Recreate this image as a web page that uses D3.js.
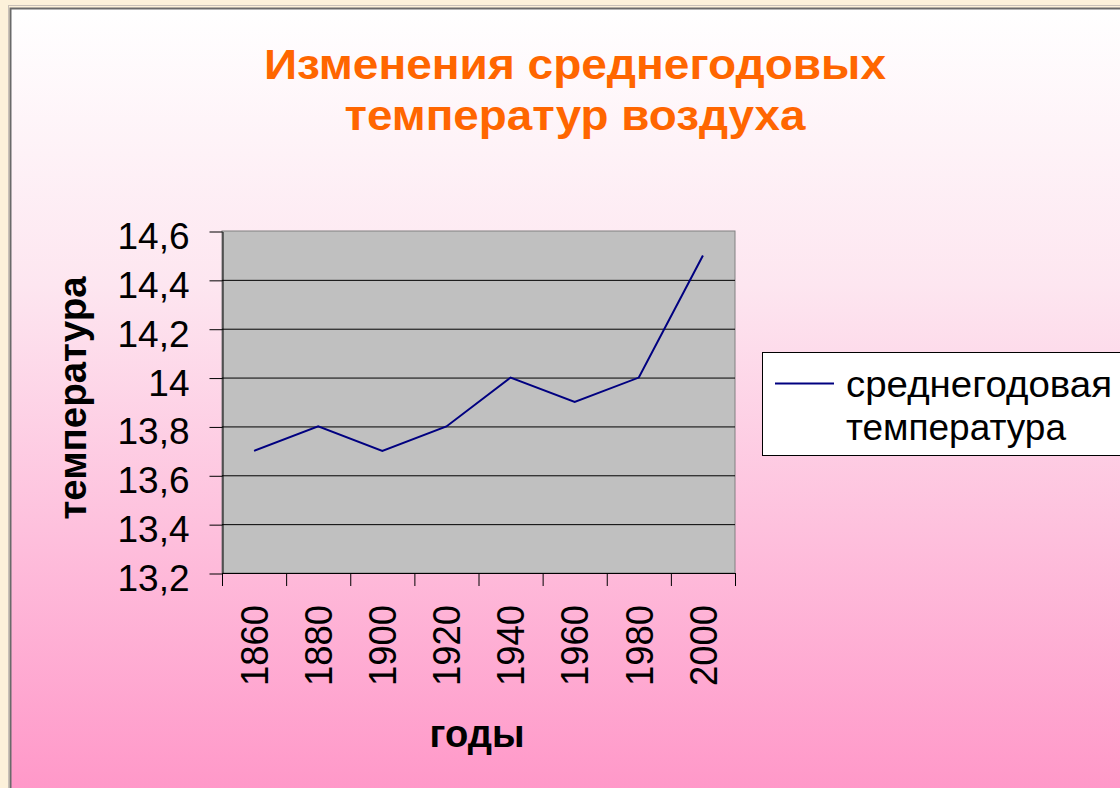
<!DOCTYPE html>
<html>
<head>
<meta charset="utf-8">
<script src="https://cdn.jsdelivr.net/npm/d3@7"></script>
<style>
  body { margin: 0; background: #fcf1da; }
  svg { display: block; }
</style>
</head>
<body>
<div id="chart"></div>
<script>
// data
const years = ["1860", "1880", "1900", "1920", "1940", "1960", "1980", "2000"];
const temps = [13.7, 13.8, 13.7, 13.8, 14.0, 13.9, 14.0, 14.5];
const yTicks = [13.2, 13.4, 13.6, 13.8, 14.0, 14.2, 14.4, 14.6];
const titleLines = ["Изменения среднегодовых", "температур воздуха"];
const legendLines = ["среднегодовая", "температура"];
const xTitle = "годы";
const yTitle = "температура";

const W = 1120, H = 788;
const plot = { left: 222, right: 735, top: 231, bottom: 573 };
const font = "'Liberation Sans', Arial, sans-serif";

const svg = d3.select("#chart")
  .append("svg")
  .attr("width", W)
  .attr("height", H)
  .style("font-family", font);

// background gradient of the slide
const defs = svg.append("defs");
const grad = defs.append("linearGradient")
  .attr("id", "bg")
  .attr("x1", 0).attr("y1", 0).attr("x2", 0).attr("y2", 1);
grad.append("stop").attr("offset", "0%").attr("stop-color", "#ffffff");
grad.append("stop").attr("offset", "35%").attr("stop-color", "#fde6f0");
grad.append("stop").attr("offset", "100%").attr("stop-color", "#ff97c8");

// frame
svg.append("rect")
  .attr("x", 8.5).attr("y", 5.5)
  .attr("width", W).attr("height", H)
  .attr("fill", "none")
  .attr("stroke", "#c8c0b8");
svg.append("rect")
  .attr("x", 10.5).attr("y", 8.5)
  .attr("width", W).attr("height", H)
  .attr("fill", "url(#bg)")
  .attr("stroke", "#6a6a6a")
  .attr("stroke-width", 2);

// title
svg.append("g")
  .selectAll("text")
  .data(titleLines)
  .join("text")
  .attr("x", 575)
  .attr("y", (d, i) => 79 + i * 51)
  .attr("text-anchor", "middle")
  .attr("font-size", 43)
  .attr("font-weight", "bold")
  .attr("fill", "#ff6600")
  .attr("textLength", (d, i) => i == 0 ? 622 : 461)
  .attr("lengthAdjust", "spacingAndGlyphs")
  .text(d => d);

// scales
const x = d3.scaleBand()
  .domain(years)
  .range([plot.left, plot.right])
  .padding(0);

const y = d3.scaleLinear()
  .domain([13.2, 14.6])
  .range([plot.bottom, plot.top]);

// plot area
svg.append("rect")
  .attr("x", plot.left).attr("y", plot.top)
  .attr("width", plot.right - plot.left)
  .attr("height", plot.bottom - plot.top)
  .attr("fill", "#c0c0c0")
  .attr("stroke", "#808080");

// gridlines
svg.append("g")
  .selectAll("line")
  .data(yTicks.slice(1, -1))
  .join("line")
  .attr("x1", plot.left).attr("x2", plot.right)
  .attr("y1", d => y(d) + 0.5).attr("y2", d => y(d) + 0.5)
  .attr("stroke", "#000")
  .attr("stroke-width", 1);

// Y axis
const Y_axis = svg.append("g")
  .attr("transform", `translate(${plot.left + 0.5}, 0.5)`)
  .call(d3.axisLeft(y)
    .tickValues(yTicks)
    .tickSize(13)
    .tickPadding(20)
    .tickSizeOuter(0)
    .tickFormat(d => String(+d.toFixed(1)).replace(".", ",")));
Y_axis.select(".domain").attr("stroke", "#000");
Y_axis.selectAll(".tick line").attr("stroke", "#000");
Y_axis.selectAll("text")
  .attr("font-size", 37)
  .attr("font-family", font)
  .attr("fill", "#000")
  .attr("dy", "0.46em");

// X axis: ticks at the category boundaries, labels in the middle
const xBounds = years.map(d => x(d)).concat([x.range()[1]]);
const X_axis = svg.append("g");
X_axis.append("line")
  .attr("x1", plot.left).attr("x2", plot.right)
  .attr("y1", plot.bottom + 0.5).attr("y2", plot.bottom + 0.5)
  .attr("stroke", "#000");
X_axis.selectAll(".xt")
  .data(xBounds)
  .join("line")
  .attr("class", "xt")
  .attr("x1", d => d + 0.5).attr("x2", d => d + 0.5)
  .attr("y1", plot.bottom).attr("y2", plot.bottom + 13)
  .attr("stroke", "#000");
X_axis.selectAll(".xl")
  .data(years)
  .join("text")
  .attr("class", "xl")
  .attr("transform", d => `translate(${x(d) + x.bandwidth() / 2}, 605) rotate(-90)`)
  .attr("text-anchor", "end")
  .attr("dy", "0.36em")
  .attr("font-size", 38)
  .attr("textLength", 81)
  .attr("lengthAdjust", "spacingAndGlyphs")
  .text(d => d);

// the line
const line = d3.line()
  .x((d, i) => x(years[i]) + x.bandwidth() / 2)
  .y(d => y(d));

svg.append("path")
  .datum(temps)
  .attr("d", line)
  .attr("fill", "none")
  .attr("stroke", "#000080")
  .attr("stroke-width", 2);

// axis titles
svg.append("text")
  .attr("transform", "translate(86, 398) rotate(-90)")
  .attr("text-anchor", "middle")
  .attr("font-size", 38)
  .attr("font-weight", "bold")
  .attr("textLength", 243)
  .attr("lengthAdjust", "spacingAndGlyphs")
  .text(yTitle);

svg.append("text")
  .attr("x", 477)
  .attr("y", 747)
  .attr("text-anchor", "middle")
  .attr("font-size", 38)
  .attr("font-weight", "bold")
  .attr("textLength", 95)
  .attr("lengthAdjust", "spacingAndGlyphs")
  .text(xTitle);

// legend
const legend = svg.append("g");
legend.append("rect")
  .attr("x", 762.5).attr("y", 352.5)
  .attr("width", 400).attr("height", 103)
  .attr("fill", "#fff")
  .attr("stroke", "#000");
legend.append("line")
  .attr("x1", 775).attr("x2", 834)
  .attr("y1", 383.5).attr("y2", 383.5)
  .attr("stroke", "#000080")
  .attr("stroke-width", 2);
legend.selectAll("text")
  .data(legendLines)
  .join("text")
  .attr("x", 846)
  .attr("y", (d, i) => 397 + i * 43)
  .attr("font-size", 37)
  .attr("fill", "#000")
  .attr("textLength", (d, i) => i == 0 ? 266 : 220)
  .attr("lengthAdjust", "spacingAndGlyphs")
  .text(d => d);
</script>
</body>
</html>
